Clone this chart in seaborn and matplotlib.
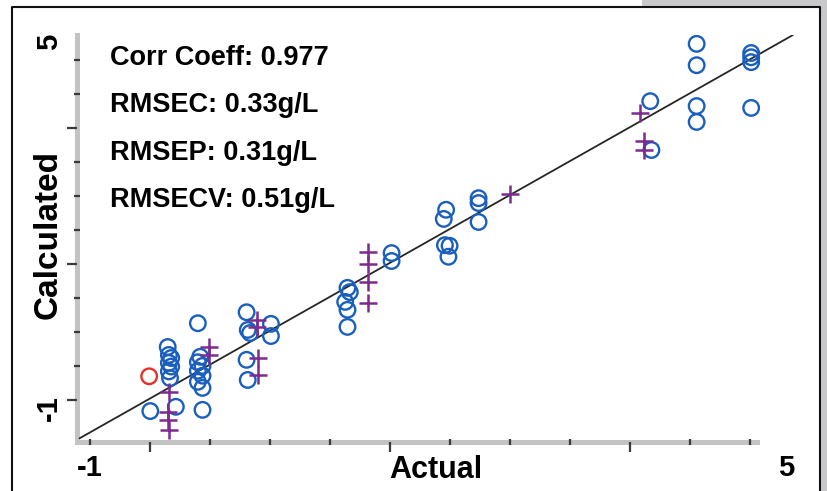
import numpy as np
import pandas as pd
import matplotlib
matplotlib.use("Agg")
import matplotlib.pyplot as plt
from matplotlib.patches import Rectangle
from matplotlib.lines import Line2D
import seaborn as sns

# calibration set (open blue circles)
cal_actual = [-0.33, -0.32, -0.30, -0.32, -0.30, -0.32, -0.31, -0.26, -0.48,
              -0.07, -0.05, -0.07, -0.03, -0.07, -0.03, -0.07, -0.03, -0.03,
              0.35, 0.36, 0.38, 0.35, 0.36, 0.56, 0.56,
              1.22, 1.24, 1.20, 1.22, 1.22, 1.60, 1.60,
              2.07, 2.05, 2.06, 2.10, 2.09, 2.35, 2.35, 2.35,
              3.83, 3.84, 4.23, 4.23, 4.23, 4.23, 4.70, 4.70, 4.70, 4.70]
cal_calc = [0.00, -0.13, -0.18, -0.26, -0.32, -0.40, -0.51, -0.98, -1.05,
            0.39, -0.16, -0.25, -0.31, -0.39, -0.47, -0.57, -0.67, -1.03,
            0.57, 0.28, 0.23, -0.21, -0.54, 0.38, 0.18,
            0.97, 0.90, 0.74, 0.61, 0.33, 1.54, 1.41,
            2.25, 2.10, 1.67, 1.66, 1.48, 2.44, 2.36, 2.05,
            4.03, 3.23, 4.97, 4.62, 3.95, 3.69, 4.82, 4.75, 4.67, 3.92]

# prediction set (purple crosses)
val_actual = [-0.32, -0.33, -0.33, -0.32, 0.03, 0.03, 0.44, 0.44, 0.45, 0.45,
              1.40, 1.40, 1.40, 1.40, 2.62, 3.74, 3.78, 3.78]
val_calc = [-0.73, -1.06, -1.19, -1.36, 0.00, -0.13, 0.44, 0.33, -0.18, -0.46,
            1.56, 1.36, 1.07, 0.72, 2.51, 3.84, 3.38, 3.23]

# outlier (red circle)
out_actual = [-0.49]
out_calc = [-0.48]

# regression line
fit_slope = 1.075
fit_intercept = -0.325
fit_range = [-1.09, 5.06]

stats_lines = ["Corr Coeff: 0.977", "RMSEC: 0.33g/L",
               "RMSEP: 0.31g/L", "RMSECV: 0.51g/L"]

BLUE = "#1a5fbd"
PURPLE = "#7d2b8e"
RED = "#e8302a"
SPINE = "#c3c3c3"
TICK = "#3a3a3a"
W, H = 828, 491

sns.set_style("white", {"xtick.bottom": True, "ytick.left": True,
                        "text.color": "black", "axes.labelcolor": "black",
                        "xtick.color": "black", "ytick.color": "black"})
plt.rcParams["font.family"] = ["Liberation Sans", "DejaVu Sans"]

fig = plt.figure(figsize=(W / 100, H / 100), dpi=100)


def fig_box(x0, y0, x1, y1):
    # pixel box (top-left origin) -> figure fraction rect
    return [x0 / W, 1 - y1 / H, (x1 - x0) / W, (y1 - y0) / H]


# screenshot frame around the chart
for x0, y0, x1, y1 in [(642, 0, W, 7), (820, 0, W, H)]:
    l, b, w, h = fig_box(x0, y0, x1, y1)
    fig.add_artist(Rectangle((l, b), w, h, transform=fig.transFigure,
                             facecolor="#c8c8ca", edgecolor="none", zorder=0))
fig.add_artist(Line2D([12 / W, 12 / W, 820 / W, 820 / W], [0, 1 - 7 / H, 1 - 7 / H, 0],
                      transform=fig.transFigure, color="#111111", lw=1.5))

ax = fig.add_axes(fig_box(77, 35, 800, 442))

df_cal = pd.DataFrame({"Actual": cal_actual, "Calculated": cal_calc})
df_val = pd.DataFrame({"Actual": val_actual, "Calculated": val_calc})
df_out = pd.DataFrame({"Actual": out_actual, "Calculated": out_calc})

fit_x = np.array(fit_range)
ax.plot(fit_x, fit_intercept + fit_slope * fit_x, color="#262626", lw=1.3, zorder=2)

sns.scatterplot(data=df_cal, x="Actual", y="Calculated", ax=ax, marker="o", s=125,
                facecolors="none", edgecolor=BLUE, linewidth=1.7, zorder=3)
sns.scatterplot(data=df_val, x="Actual", y="Calculated", ax=ax, marker="+", s=150,
                color=PURPLE, linewidth=1.8, zorder=3)
sns.scatterplot(data=df_out, x="Actual", y="Calculated", ax=ax, marker="o", s=125,
                facecolors="none", edgecolor=RED, linewidth=1.7, zorder=3)

ax.set_xlim(-1.112, 5.121)
ax.set_ylim(-1.557, 5.115)

# axis decoration
for side in ["top", "right"]:
    ax.spines[side].set_visible(False)
for side in ["left", "bottom"]:
    ax.spines[side].set_color(SPINE)
    ax.spines[side].set_linewidth(3.6)
    ax.spines[side].set_zorder(1)
ax.spines["bottom"].set_bounds(-1.112, 4.75)
ax.set_axisbelow(False)

x_marks = -1 + 0.517 * np.arange(12)
y_marks = -0.869 + 0.557 * np.arange(11)
ax.set_xticks(x_marks[[1, 5, 9]], labels=[])
ax.set_xticks(np.delete(x_marks, [1, 5, 9]), minor=True)
ax.set_yticks(y_marks[[0, 4, 8]], labels=[])
ax.set_yticks(np.delete(y_marks, [0, 4, 8]), minor=True)
ax.tick_params(which="both", bottom=True, left=True, top=False, right=False)
ax.tick_params(which="major", direction="out", length=7, width=1.6, color=TICK)
ax.tick_params(which="minor", direction="inout", length=4, width=1.6, color=TICK)

# end labels only
sec_x = ax.secondary_xaxis("bottom")
sec_x.set_xticks([-1, 5], labels=["-1", "5"])
sec_x.tick_params(length=0, pad=9, labelsize=21, labelcolor="black")
sec_x.spines["bottom"].set_visible(False)
sec_y = ax.secondary_yaxis("left")
sec_y.set_yticks([-1, 5], labels=["-1", "5"])
sec_y.tick_params(length=0, pad=10, labelsize=21, labelrotation=90, labelcolor="black")
for t in sec_y.get_yticklabels() + sec_x.get_xticklabels():
    t.set_fontweight("bold")
for t in sec_y.get_yticklabels():
    t.set_va("center")
sec_y.spines["left"].set_visible(False)

ax.set_xlabel("Actual", fontsize=22, fontweight="bold", color="black")
ax.set_ylabel("Calculated", fontsize=24, fontweight="bold", color="black")
ax.xaxis.set_label_coords(0.4965, -0.033)
ax.yaxis.set_label_coords(-0.018, 0.509)

for i, line in enumerate(stats_lines):
    ax.text(110 / W, 1 - (58 + 47.3 * i) / H, line, transform=fig.transFigure,
            fontsize=19.5, fontweight="bold", va="center", ha="left", color="black")

fig.savefig("out.png", dpi=100)
plt.close(fig)
